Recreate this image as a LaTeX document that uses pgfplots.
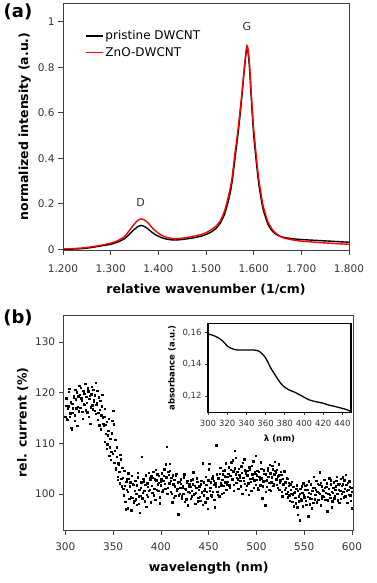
\documentclass[border=0pt]{standalone}
\usepackage{fontspec}
\setmainfont{DejaVu Sans}
\usepackage{pgfplots}
\pgfplotsset{compat=1.18}
\begin{document}
\begin{tikzpicture}
\path (0pt,0pt) rectangle (374pt,583pt);
\pgfplotsset{
  every axis/.append style={
    scale only axis,
    /pgf/number format/assume math mode=true,
    axis line style={black!75, line width=0.6pt},
    tick align=outside,
    xtick pos=bottom, ytick pos=left,
    major tick length=5pt,
    every tick/.style={black!75, line width=0.6pt},
    tick label style={font=\fontsize{10.5}{12}\selectfont, text=black!80},
    label style={font=\bfseries\fontsize{12.5}{14}\selectfont},
  }
}
\node[font=\bfseries\fontsize{18}{20}\selectfont] at (16pt,571pt) {(a)};
\node[font=\bfseries\fontsize{18}{20}\selectfont] at (16pt,265pt) {(b)};
% ---------------- panel (a)
\begin{axis}[at={(61pt,333pt)}, anchor=south west, width=286pt, height=247pt,
  xmin=1200, xmax=1800, ymin=-0.003, ymax=1.082,
  xtick={1200,1300,...,1800}, xticklabels={1.200,1.300,1.400,1.500,1.600,1.700,1.800},
  ytick={0,0.2,0.4,0.6,0.8,1}, yticklabels={0,0.2,0.4,0.6,0.8,1},
  xticklabel style={yshift=-6pt},
  xlabel={relative wavenumber (1/cm)}, ylabel={normalized intensity (a.u.)},
  xlabel style={yshift=-5pt},
  legend cell align=left,
  legend style={draw=none, fill=none, at={(0.065,0.905)}, anchor=north west,
    font=\fontsize{12}{13}\selectfont, row sep=2pt},
  legend image post style={line width=1.6pt}]
\addplot[black, line width=1.4pt, smooth, tension=0.4] coordinates {
(1200,0.000) (1220,0.001) (1240,0.003) (1260,0.008) (1280,0.015) (1300,0.022)
(1315,0.032) (1330,0.048) (1340,0.068) (1350,0.088) (1358,0.101) (1364,0.105)
(1370,0.101) (1378,0.090) (1386,0.076) (1395,0.063) (1405,0.053) (1415,0.046)
(1425,0.042) (1435,0.041) (1445,0.042) (1460,0.046) (1475,0.051) (1490,0.058)
(1500,0.065) (1510,0.075) (1520,0.090) (1530,0.115) (1540,0.160) (1550,0.240)
(1555,0.300) (1560,0.385) (1565,0.470) (1570,0.560) (1575,0.665) (1580,0.780)
(1584,0.860) (1586,0.882) (1588,0.870) (1591,0.805) (1594,0.700) (1597,0.595)
(1600,0.505) (1605,0.395) (1610,0.300) (1615,0.230) (1620,0.175) (1630,0.110)
(1640,0.078) (1650,0.062) (1660,0.054) (1680,0.047) (1700,0.043) (1750,0.037)
(1800,0.031)};
\addlegendentry{pristine DWCNT}
\addplot[red, line width=1.4pt, smooth, tension=0.4] coordinates {
(1200,0.002) (1220,0.003) (1240,0.006) (1260,0.011) (1280,0.018) (1300,0.027)
(1315,0.038) (1330,0.058) (1340,0.085) (1350,0.112) (1358,0.129) (1364,0.134)
(1370,0.130) (1378,0.117) (1386,0.097) (1395,0.079) (1405,0.064) (1415,0.054)
(1425,0.049) (1435,0.047) (1445,0.048) (1460,0.052) (1475,0.058) (1490,0.065)
(1500,0.073) (1510,0.085) (1520,0.100) (1530,0.125) (1540,0.175) (1550,0.260)
(1555,0.320) (1560,0.410) (1565,0.490) (1570,0.580) (1575,0.680) (1580,0.790)
(1584,0.872) (1586,0.895) (1588,0.882) (1591,0.820) (1594,0.720) (1597,0.620)
(1600,0.530) (1605,0.420) (1610,0.320) (1615,0.250) (1620,0.190) (1630,0.120)
(1640,0.085) (1650,0.065) (1660,0.052) (1680,0.042) (1700,0.036) (1750,0.028)
(1800,0.022)};
\addlegendentry{ZnO-DWCNT}
\node[font=\fontsize{11}{12}\selectfont, text=black!80] at (axis cs:1363,0.205) {D};
\node[font=\fontsize{11}{12}\selectfont, text=black!80] at (axis cs:1586,0.98) {G};
\end{axis}
% ---------------- panel (b)
\begin{axis}[at={(61.7pt,53pt)}, anchor=south west, width=290pt, height=215pt,
  xmin=298.3, xmax=601.8, ymin=92.9, ymax=135.3,
  xtick={300,350,...,600}, ytick={100,110,120,130},
  xticklabels={300,350,400,450,500,550,600}, yticklabels={100,110,120,130},
  xticklabel style={yshift=-4pt},
  xlabel style={yshift=-5pt},
  xlabel={wavelength (nm)}, ylabel={rel. current (\%)}]
\addplot[only marks, mark=square*, mark size=0.7pt, black] coordinates {
(300,115.2) (301,118.9) (302,114.6) (303,117.3) (304,120.8) (305,115.9) (306,113.1) (307,117.8) (308,116.0) (309,119.4)
(310,115.5) (311,118.7) (312,120.1) (313,117.2) (314,116.3) (315,119.6) (316,121.0) (317,118.4) (318,114.8) (319,119.9)
(320,117.6) (321,121.7) (322,119.2) (323,116.1) (324,120.3) (325,118.8) (326,113.9) (327,119.7) (328,117.5) (329,120.6)
(330,118.2) (331,116.4) (332,122.0) (333,117.9) (334,114.7) (335,119.1) (336,116.6) (337,112.8) (338,117.3) (339,115.0)
(340,113.6) (341,116.8) (342,111.9) (343,114.2) (344,109.8) (345,112.5) (346,107.6) (347,110.9) (348,108.3) (349,114.5)
(350,116.4) (351,106.2) (352,110.7) (353,104.9) (354,107.3) (355,103.4) (356,105.8) (357,102.1) (358,106.9) (359,101.5)
(360,103.2) (361,99.8) (362,101.6) (363,97.0) (364,102.9) (365,100.4) (366,104.1) (367,99.1) (368,102.3) (369,96.8)
(370,99.3) (371,101.8) (372,98.7) (373,102.6) (374,100.1) (375,97.9) (376,103.3) (377,99.6) (378,96.3) (379,101.2)
(380,107.4) (381,100.3) (382,102.5) (383,98.6) (384,103.7) (385,99.9) (386,101.4) (387,104.2) (388,100.8) (389,102.9)
(390,103.5) (391,100.2) (392,104.4) (393,101.1) (394,98.9) (395,102.7) (396,103.9) (397,100.6) (398,102.2) (399,99.4)
(400,101.7) (401,104.1) (402,100.9) (403,103.6) (404,102.0) (405,105.9) (406,109.3) (407,101.3) (408,103.8) (409,104.6)
(410,100.5) (411,103.2) (412,98.4) (413,101.9) (414,102.8) (415,99.7) (416,104.0) (417,101.0) (418,96.0) (419,102.4)
(420,100.1) (421,102.9) (422,99.2) (423,101.6) (424,103.3) (425,98.5) (426,100.8) (427,102.2) (428,97.8) (429,101.4)
(430,100.3) (431,102.7) (432,99.6) (433,101.9) (434,104.3) (435,100.0) (436,98.1) (437,101.2) (438,102.4) (439,99.3)
(440,101.5) (441,98.7) (442,102.6) (443,100.2) (444,106.1) (445,99.8) (446,101.0) (447,103.4) (448,100.5) (449,97.1)
(450,104.9) (451,100.7) (452,102.3) (453,99.5) (454,103.6) (455,101.8) (456,98.9) (457,102.1) (458,109.6) (459,100.4)
(460,103.1) (461,99.6) (462,105.2) (463,101.7) (464,102.8) (465,104.6) (466,100.3) (467,103.5) (468,106.1) (469,101.9)
(470,102.4) (471,105.3) (472,101.2) (473,104.8) (474,103.0) (475,106.7) (476,100.6) (477,108.5) (478,103.9) (479,102.2)
(480,104.4) (481,101.1) (482,103.8) (483,102.6) (484,105.5) (485,100.1) (486,103.2) (487,106.9) (488,102.0) (489,104.1)
(490,101.6) (491,103.7) (492,99.9) (493,104.9) (494,102.4) (495,105.6) (496,103.1) (497,101.3) (498,104.3) (499,107.5)
(500,102.8) (501,104.6) (502,100.9) (503,103.4) (504,101.7) (505,105.0) (506,99.2) (507,102.5) (508,104.0) (509,97.8)
(510,103.9) (511,101.4) (512,104.7) (513,102.2) (514,105.8) (515,100.7) (516,103.3) (517,104.9) (518,102.0) (519,106.4)
(520,104.2) (521,101.8) (522,103.5) (523,105.9) (524,100.9) (525,102.7) (526,103.8) (527,99.6) (528,101.9) (529,104.5)
(530,102.3) (531,100.1) (532,103.0) (533,99.4) (534,101.6) (535,98.7) (536,100.8) (537,102.4) (538,99.9) (539,97.6)
(540,100.5) (541,98.2) (542,101.7) (543,95.9) (544,99.6) (545,94.8) (546,101.0) (547,98.8) (548,100.3) (549,102.1)
(550,99.4) (551,101.6) (552,97.9) (553,100.8) (554,95.6) (555,102.5) (556,99.2) (557,100.0) (558,97.2) (559,101.3)
(560,103.4) (561,99.0) (562,100.9) (563,98.4) (564,102.0) (565,100.2) (566,104.3) (567,97.8) (568,101.5) (569,99.6)
(570,100.7) (571,102.8) (572,98.9) (573,101.4) (574,96.6) (575,100.1) (576,103.1) (577,99.3) (578,101.9) (579,97.4)
(580,100.2) (581,102.3) (582,99.7) (583,101.5) (584,103.4) (585,98.8) (586,100.9) (587,102.0) (588,99.1) (589,101.6)
(590,103.3) (591,100.4) (592,102.7) (593,99.6) (594,101.8) (595,98.3) (596,100.9) (597,102.5) (598,99.8) (599,101.2) (600,97.2)
(300.5,117.4) (301.5,114.9) (302.5,116.8) (303.5,120.2) (304.5,115.3) (305.5,118.1) (306.5,112.7) (307.5,116.9) (308.5,119.0) (309.5,114.4)
(310.5,120.6) (311.5,116.9) (312.5,113.5) (313.5,119.3) (314.5,121.4) (315.5,117.0) (316.5,118.9) (317.5,116.2) (318.5,120.4) (319.5,117.7)
(320.5,119.8) (321.5,116.5) (322.5,118.0) (323.5,120.9) (324.5,115.2) (325.5,119.4) (326.5,117.1) (327.5,121.2) (328.5,116.7) (329.5,118.6)
(330.5,119.5) (331.5,115.8) (332.5,117.6) (333.5,120.4) (334.5,116.0) (335.5,113.6) (336.5,118.4) (337.5,115.5) (338.5,119.6) (339.5,113.9)
(340.5,115.2) (341.5,110.3) (342.5,113.7) (343.5,108.9) (344.5,111.6) (345.5,114.8) (346.5,109.2) (347.5,106.8) (348.5,112.0) (349.5,107.9)
(350.5,113.8) (351.5,108.5) (352.5,105.1) (353.5,109.2) (354.5,102.8) (355.5,106.1) (356.5,104.4) (357.5,107.7) (358.5,103.0) (359.5,105.2)
(360.5,101.0) (361.5,104.6) (362.5,98.5) (363.5,102.4) (364.5,100.9) (365.5,97.2) (366.5,103.0) (367.5,101.5) (368.5,99.4) (369.5,103.6)
(370.5,102.0) (371.5,98.3) (372.5,100.6) (373.5,99.0) (374.5,101.7) (375.5,104.2) (376.5,98.1) (377.5,100.9) (378.5,99.7) (379.5,102.3)
(380.5,99.2) (381.5,103.0) (382.5,100.6) (383.5,101.8) (384.5,97.5) (385.5,102.1) (386.5,99.5) (387.5,100.7) (388.5,103.1) (389.5,98.4)
(390.5,101.6) (391.5,103.2) (392.5,99.8) (393.5,102.9) (394.5,104.8) (395.5,100.9) (396.5,101.9) (397.5,103.6) (398.5,98.2) (399.5,102.5)
(400.5,103.0) (401.5,100.4) (402.5,102.6) (403.5,104.9) (404.5,101.1) (405.5,103.3) (406.5,100.0) (407.5,104.4) (408.5,102.1) (409.5,106.0)
(410.5,102.6) (411.5,100.1) (412.5,103.7) (413.5,99.3) (414.5,101.5) (415.5,103.6) (416.5,100.7) (417.5,102.3) (418.5,99.8) (419.5,101.2)
(420.5,102.0) (421.5,99.6) (422.5,101.2) (423.5,100.0) (424.5,103.9) (425.5,101.0) (426.5,99.0) (427.5,102.6) (428.5,100.4) (429.5,101.9)
(430.5,101.4) (431.5,99.1) (432.5,100.7) (433.5,102.9) (434.5,99.9) (435.5,101.6) (436.5,100.2) (437.5,103.1) (438.5,98.6) (439.5,100.8)
(440.5,99.5) (441.5,101.9) (442.5,100.4) (443.5,97.9) (444.5,102.3) (445.5,100.6) (446.5,98.4) (447.5,101.8) (448.5,99.2) (449.5,102.7)
(450.5,106.0) (451.5,101.2) (452.5,99.8) (453.5,103.1) (454.5,100.5) (455.5,102.6) (456.5,97.4) (457.5,101.5) (458.5,103.9) (459.5,99.9)
(460.5,101.4) (461.5,104.0) (462.5,102.1) (463.5,100.0) (464.5,103.9) (465.5,101.6) (466.5,104.7) (467.5,102.3) (468.5,100.8) (469.5,103.4)
(470.5,104.0) (471.5,101.7) (472.5,103.6) (473.5,106.3) (474.5,102.9) (475.5,104.5) (476.5,101.8) (477.5,105.1) (478.5,107.2) (479.5,103.2)
(480.5,102.9) (481.5,105.0) (482.5,103.3) (483.5,101.5) (484.5,104.2) (485.5,106.2) (486.5,102.6) (487.5,104.7) (488.5,100.8) (489.5,103.6)
(490.5,104.6) (491.5,102.1) (492.5,105.3) (493.5,103.0) (494.5,100.6) (495.5,103.9) (496.5,106.5) (497.5,102.7) (498.5,104.0) (499.5,101.8)
(500.5,103.7) (501.5,101.2) (502.5,104.4) (503.5,102.9) (504.5,106.3) (505.5,103.1) (506.5,101.5) (507.5,104.7) (508.5,102.6) (509.5,100.4)
(510.5,102.7) (511.5,105.1) (512.5,103.4) (513.5,100.8) (514.5,104.1) (515.5,102.3) (516.5,105.6) (517.5,101.6) (518.5,103.9) (519.5,104.6)
(520.5,102.9) (521.5,104.8) (522.5,101.3) (523.5,103.7) (524.5,102.2) (525.5,104.4) (526.5,100.5) (527.5,103.0) (528.5,102.0) (529.5,100.9)
(530.5,101.3) (531.5,103.1) (532.5,100.5) (533.5,102.2) (534.5,99.8) (535.5,101.9) (536.5,100.0) (537.5,98.5) (538.5,101.4) (539.5,100.2)
(540.5,99.3) (541.5,101.1) (542.5,97.4) (543.5,100.7) (544.5,98.6) (545.5,100.1) (546.5,99.0) (547.5,101.5) (548.5,97.6) (549.5,99.8)
(550.5,100.9) (551.5,98.7) (552.5,101.8) (553.5,99.5) (554.5,100.3) (555.5,98.0) (556.5,101.9) (557.5,99.1) (558.5,100.6) (559.5,98.3)
(560.5,101.2) (561.5,99.9) (562.5,102.6) (563.5,100.5) (564.5,98.9) (565.5,101.8) (566.5,100.0) (567.5,102.2) (568.5,99.2) (569.5,100.8)
(570.5,99.5) (571.5,101.3) (572.5,100.2) (573.5,102.1) (574.5,98.8) (575.5,101.0) (576.5,99.9) (577.5,102.7) (578.5,100.4) (579.5,98.6)
(580.5,101.3) (581.5,99.2) (582.5,100.8) (583.5,102.6) (584.5,100.0) (585.5,101.9) (586.5,98.3) (587.5,100.6) (588.5,103.0) (589.5,100.1)
(590.5,101.9) (591.5,99.4) (592.5,101.1) (593.5,103.8) (594.5,100.6) (595.5,102.2) (596.5,99.9) (597.5,101.4) (598.5,98.7) (599.5,100.5)
};
\end{axis}
% ---------------- inset
\begin{axis}[at={(206pt,170.7pt)}, anchor=south west, width=143pt, height=89pt,
  xmin=300, xmax=449, ymin=0.1098, ymax=0.1657,
  axis background/.style={fill=white},
  axis line style={black, line width=1.2pt},
  major tick length=3pt,
  xtick={300,320,...,440}, xticklabels={300,320,340,360,380,400,420,440},
  ytick={0.12,0.14,0.16}, yticklabels={{0,12},{0,14},{0,16}},
  tick label style={font=\fontsize{8.5}{9}\selectfont, text=black!80},
  xticklabel style={yshift=-1pt},
  label style={font=\bfseries\fontsize{8.5}{9}\selectfont},
  xlabel style={yshift=-2pt},
  xlabel={λ (nm)}, ylabel={absorbance (a.u.)}]
\addplot[black, line width=1.3pt, smooth, tension=0.5] coordinates {
(300,0.1590) (305,0.1582) (310,0.1568) (315,0.1548) (320,0.1515) (325,0.1498)
(330,0.1490) (340,0.1489) (348,0.1489) (352,0.1485) (356,0.1468) (360,0.1440)
(363,0.1405) (366,0.1370) (370,0.1332) (374,0.1295) (378,0.1265) (384,0.1240)
(390,0.1225) (398,0.1200) (405,0.1177) (412,0.1165) (420,0.1155) (425,0.1145)
(432,0.1135) (439,0.1124) (445,0.1114) (449,0.1102)};
\end{axis}
\end{tikzpicture}
\end{document}
